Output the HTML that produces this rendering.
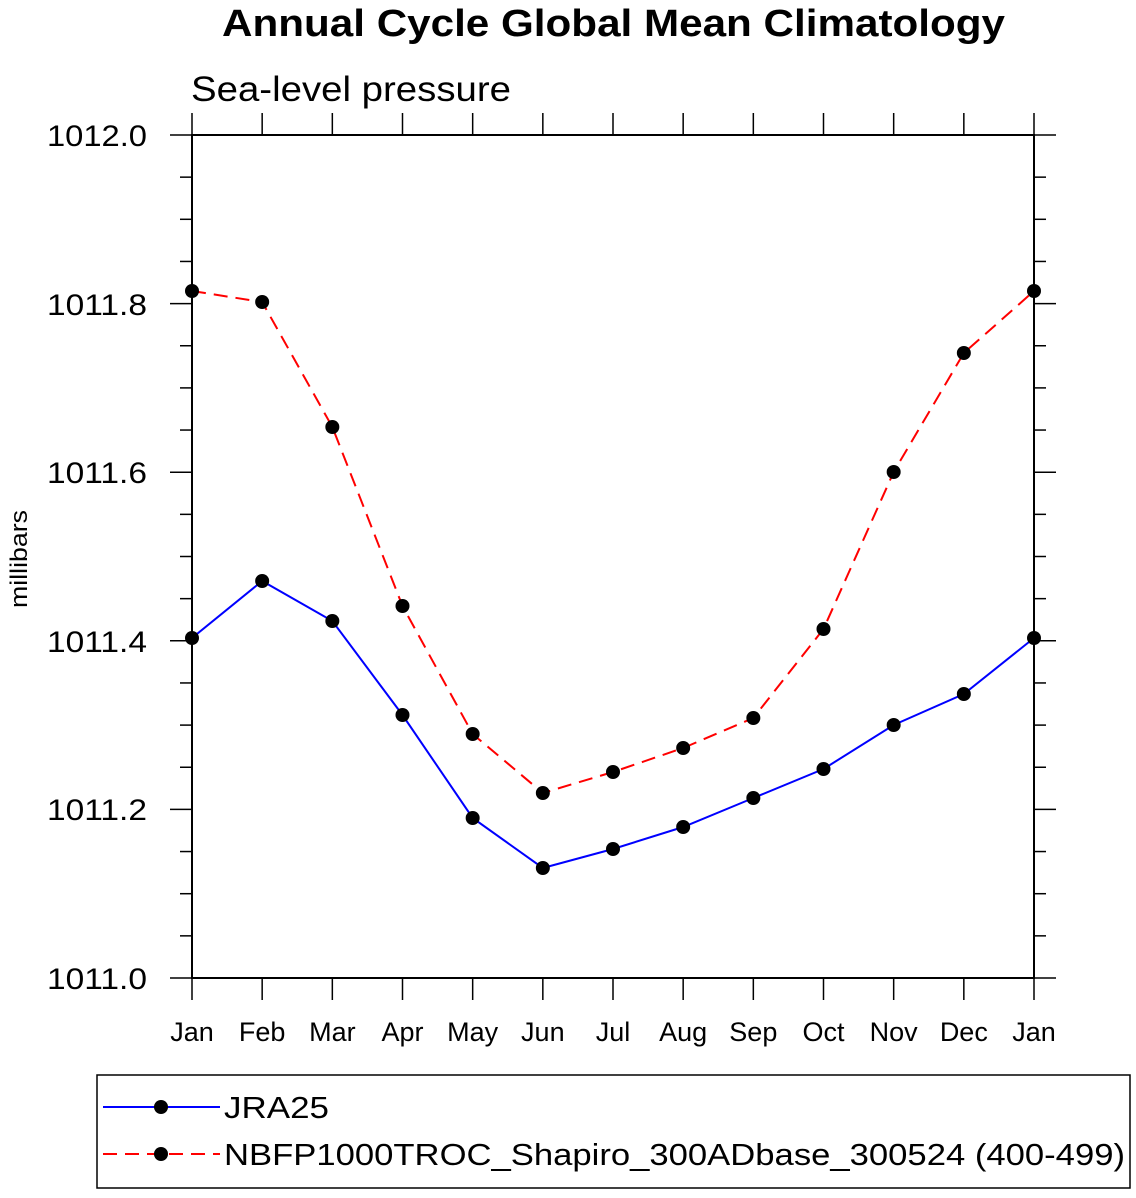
<!DOCTYPE html>
<html><head><style>body{margin:0;background:#fff}</style></head><body>
<svg width="1136" height="1193" xmlns="http://www.w3.org/2000/svg" font-family="Liberation Sans, sans-serif">
<rect width="1136" height="1193" fill="#fff"/>
<text x="222" y="36" font-size="38" font-weight="bold" textLength="783" lengthAdjust="spacingAndGlyphs">Annual Cycle Global Mean Climatology</text>
<text x="191" y="101" font-size="35" textLength="320" lengthAdjust="spacingAndGlyphs">Sea-level pressure</text>
<text transform="translate(27,559) rotate(-90)" font-size="24" text-anchor="middle" textLength="98" lengthAdjust="spacingAndGlyphs">millibars</text>
<rect x="192" y="135" width="842" height="843" fill="none" stroke="#000" stroke-width="2"/>
<g stroke="#000" stroke-width="1.5" id="t"></g>
<g font-size="30">
<text x="47" y="146" textLength="100" lengthAdjust="spacingAndGlyphs">1012.0</text>
<text x="47" y="315" textLength="100" lengthAdjust="spacingAndGlyphs">1011.8</text>
<text x="47" y="483" textLength="100" lengthAdjust="spacingAndGlyphs">1011.6</text>
<text x="47" y="652" textLength="100" lengthAdjust="spacingAndGlyphs">1011.4</text>
<text x="47" y="820" textLength="100" lengthAdjust="spacingAndGlyphs">1011.2</text>
<text x="47" y="989" textLength="100" lengthAdjust="spacingAndGlyphs">1011.0</text>
</g>
<g font-size="27" text-anchor="middle" id="xl"></g>
<polyline id="b" fill="none" stroke="#00f" stroke-width="2"/>
<polyline id="r" fill="none" stroke="#f00" stroke-width="2" stroke-dasharray="14,8"/>
<g id="m"></g>
<rect x="97" y="1075" width="1033" height="113" fill="none" stroke="#000" stroke-width="1.5"/>
<line x1="103" y1="1107" x2="220" y2="1107" stroke="#00f" stroke-width="2"/>
<line x1="103" y1="1154" x2="220" y2="1154" stroke="#f00" stroke-width="2" stroke-dasharray="14,8"/>
<circle cx="161" cy="1107" r="7"/><circle cx="161" cy="1154" r="7"/>
<text x="224" y="1118" font-size="31" textLength="105" lengthAdjust="spacingAndGlyphs">JRA25</text>
<text x="224" y="1165" font-size="31" textLength="901" lengthAdjust="spacingAndGlyphs">NBFP1000TROC_Shapiro_300ADbase_300524 (400-499)</text>
<script>
var ns="http://www.w3.org/2000/svg",t=document.getElementById('t'),xl=document.getElementById('xl'),m=document.getElementById('m');
function L(a,b,c,d){var l=document.createElementNS(ns,'line');l.setAttribute('x1',a);l.setAttribute('y1',b);l.setAttribute('x2',c);l.setAttribute('y2',d);t.appendChild(l);}
for(var i=0;i<=20;i++){var y=978-i*843/20,len=(i%4==0)?22:12;L(192-len,y,192,y);L(1034,y,1034+len,y);}
var mo=["Jan","Feb","Mar","Apr","May","Jun","Jul","Aug","Sep","Oct","Nov","Dec","Jan"];
for(var i=0;i<13;i++){var x=192+i*842/12;L(x,113,x,135);L(x,978,x,1000);
var tx=document.createElementNS(ns,'text');tx.setAttribute('x',x);tx.setAttribute('y',1041);tx.textContent=mo[i];xl.appendChild(tx);}
var B=[638,581,621,715,818,868,849,827,798,769,725,694,638],R=[291,302,427,606,734,793,772,748,718,629,472,353,291];
function P(id,a){var s="";for(var i=0;i<13;i++){var x=192+i*842/12;s+=x+","+a[i]+" ";var c=document.createElementNS(ns,'circle');c.setAttribute('cx',x);c.setAttribute('cy',a[i]);c.setAttribute('r',7);m.appendChild(c);}document.getElementById(id).setAttribute('points',s);}
P('b',B);P('r',R);
</script>
</svg>
</body></html>
